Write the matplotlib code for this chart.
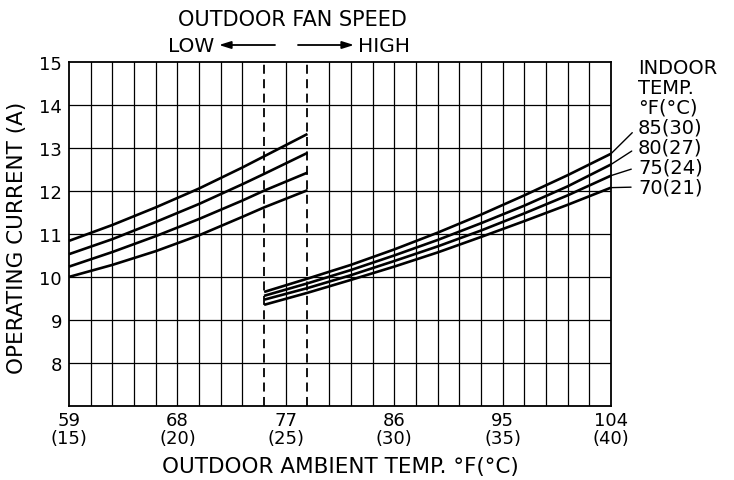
import matplotlib
matplotlib.use("Agg")
import matplotlib.pyplot as plt
import numpy as np

plt.rcParams['font.family'] = ['DejaVu Sans']

# ---- data (outdoor temp in °C, current in A) ----
x_low_c = [15, 17, 19, 21, 23, 24, 26]
low_85 = [10.84, 11.21, 11.62, 12.06, 12.55, 12.81, 13.33]
low_80 = [10.53, 10.88, 11.28, 11.70, 12.16, 12.40, 12.89]
low_75 = [10.24, 10.58, 10.95, 11.35, 11.78, 12.01, 12.43]
low_70 = [10.00, 10.28, 10.60, 10.97, 11.40, 11.62, 12.02]

x_high_c = [24, 26, 28, 30, 32, 34, 36, 38, 40]
high_85 = [9.65, 9.96, 10.28, 10.64, 11.03, 11.45, 11.90, 12.37, 12.87]
high_80 = [9.56, 9.85, 10.16, 10.50, 10.86, 11.25, 11.66, 12.11, 12.62]
high_75 = [9.47, 9.74, 10.04, 10.37, 10.71, 11.08, 11.48, 11.90, 12.36]
high_70 = [9.35, 9.63, 9.93, 10.24, 10.57, 10.93, 11.30, 11.68, 12.08]

indoor_labels = ["85(30)", "80(27)", "75(24)", "70(21)"]
x_tick_c = [15, 20, 25, 30, 35, 40]
x_tick_f = [59, 68, 77, 86, 95, 104]
y_ticks = [8, 9, 10, 11, 12, 13, 14, 15]
fan_switch_c = [24, 26]

W, H = 734, 481
fig = plt.figure(figsize=(W / 100, H / 100), dpi=100)
L, R, T, B = 69, 611, 63.3, 406.7
ax = fig.add_axes([L / W, (H - B) / H, (R - L) / W, (B - T) / H])
ax.set_xlim(15, 40)
ax.set_ylim(7, 15)

# grid
for xc in range(16, 40):
    if xc in fan_switch_c:
        continue
    ax.axvline(xc, color='black', lw=0.9, zorder=1)
for yv in range(8, 15):
    ax.axhline(yv, color='black', lw=0.9, zorder=1)
for xc in fan_switch_c:
    ax.axvline(xc, color='black', lw=1.3, ls=(0, (5, 3)), zorder=1)

for ys in [low_85, low_80, low_75, low_70]:
    ax.plot(x_low_c, ys, color='black', lw=1.9, clip_on=False, zorder=3,
            solid_capstyle='butt')
for ys in [high_85, high_80, high_75, high_70]:
    ax.plot(x_high_c, ys, color='black', lw=1.9, clip_on=False, zorder=3,
            solid_capstyle='butt')

for s in ax.spines.values():
    s.set_linewidth(1.3)
    s.set_color('black')

ax.set_xticks(x_tick_c)
ax.set_xticklabels([f"{f}\n({c})" for f, c in zip(x_tick_f, x_tick_c)],
                   fontsize=13, linespacing=0.95)
ax.set_yticks(y_ticks)
ax.set_yticklabels([str(v) for v in y_ticks], fontsize=13)
ax.tick_params(axis='both', length=0)
ax.tick_params(axis='x', pad=4)
ax.tick_params(axis='y', pad=5)

ax.set_xlabel("OUTDOOR AMBIENT TEMP. °F(°C)", fontsize=15.5, labelpad=7)
fig.text(17 / W, 1 - 238 / H, "OPERATING CURRENT (A)", rotation=90,
         fontsize=15.5, ha='center', va='center')

# top annotation
fig.text(292 / W, 1 - 19.5 / H, "OUTDOOR FAN SPEED", fontsize=15,
         ha='center', va='center')
fig.text(214 / W, 1 - 46.5 / H, "LOW", fontsize=14.5, ha='right', va='center')
fig.text(358 / W, 1 - 46.5 / H, "HIGH", fontsize=14.5, ha='left', va='center')
arrow_kw = dict(arrowstyle='-|>,head_length=0.7,head_width=0.22', lw=1.3,
                color='black', shrinkA=0, shrinkB=0)
ax.annotate("", xy=(219, H - 46), xytext=(275, H - 46),
            xycoords='figure pixels', textcoords='figure pixels',
            arrowprops=arrow_kw)
ax.annotate("", xy=(354, H - 46), xytext=(298, H - 46),
            xycoords='figure pixels', textcoords='figure pixels',
            arrowprops=arrow_kw)

# indoor temp legend
for i, t in enumerate(["INDOOR", "TEMP.", "°F(°C)"]):
    fig.text(638 / W, 1 - (68 + 20 * i) / H, t, fontsize=14,
             ha='left', va='center')
ends = [high_85[-1], high_80[-1], high_75[-1], high_70[-1]]
for i, (lab, v) in enumerate(zip(indoor_labels, ends)):
    ty = 128 + 20 * i
    ax.annotate(lab, xy=(x_high_c[-1], v), xycoords='data',
                xytext=(638, H - ty), textcoords='figure pixels',
                fontsize=14, ha='left', va='center', annotation_clip=False,
                arrowprops=dict(arrowstyle='-', lw=1.0, color='black',
                                shrinkA=3, shrinkB=0, relpos=(0, 0.5)))

fig.savefig("out.png", dpi=100)
